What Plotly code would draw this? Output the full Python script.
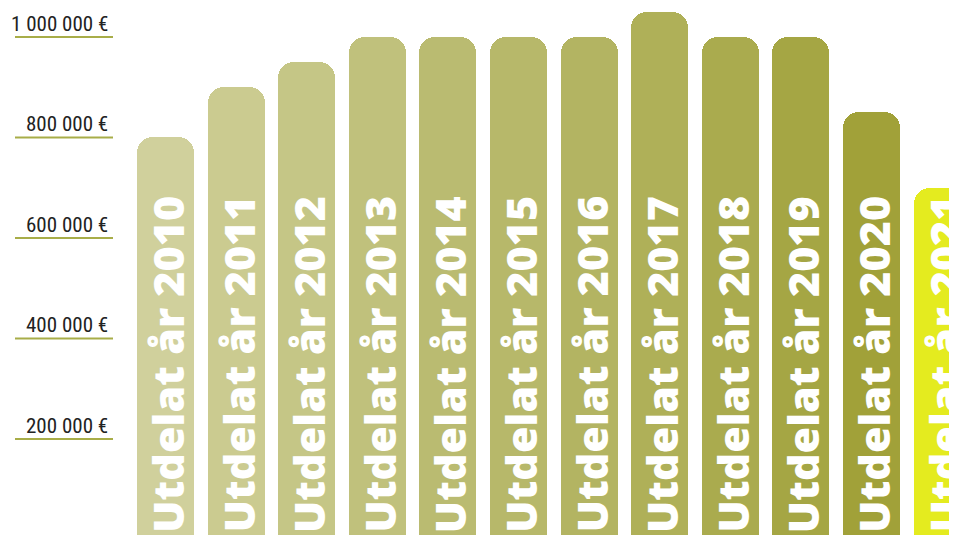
import plotly.graph_objects as go

years = ["2010", "2011", "2012", "2013", "2014", "2015", "2016", "2017", "2018", "2019", "2020", "2021"]
values = [800000, 900000, 950000, 1000000, 1000000, 1000000, 1000000, 1050000, 1000000, 1000000, 850000, 700000]
colors = ["#d0d09c", "#cbcb90", "#c5c686", "#c0c17c", "#babb71", "#b7b86a", "#b3b462",
          "#afb058", "#aaab4e", "#a5a644", "#a1a139", "#e4eb1f"]
bar_labels = ["Utdelat år " + y for y in years]
tick_vals = [200000, 400000, 600000, 800000, 1000000]
tick_text = ["200 000 €", "400 000 €", "600 000 €", "800 000 €", "1 000 000 €"]

# page has 8px body margin; figure sized to fill the rest of the 957x535 window
OFF = 8
W, H = 957 - OFF, 535 - OFF
STEP = 70.6
C0 = 165.5 - OFF
PX_VAL = 1990.0
ZERO_PX = 539.5 - OFF
y_lo = -(H - ZERO_PX) * PX_VAL   # value at the bottom edge of the visible area
y_hi = ZERO_PX * PX_VAL

xs = list(range(len(years)))

fig = go.Figure()
fig.add_trace(go.Bar(
    x=xs,
    y=values,
    marker=dict(color=colors, cornerradius=16, line=dict(width=0)),
    width=57 / STEP,
    cliponaxis=True,
    hoverinfo="skip",
))

for xi, lab in zip(xs, bar_labels):
    fig.add_annotation(
        x=xi, y=y_lo, xref="x", yref="y",
        text=lab, showarrow=False, textangle=-90,
        xanchor="center", yanchor="bottom", yshift=0, xshift=2,
        font=dict(family="Open Sans, sans-serif", size=43, color="white", weight=800),
    )

# axis-like labels with underline on the left
for v, t in zip(tick_vals, tick_text):
    fig.add_annotation(
        x=(110 - OFF) / W, xref="paper", y=v, yref="y",
        text=t, showarrow=False, xanchor="right", yanchor="bottom",
        yshift=-1,
        font=dict(family="Liberation Sans Narrow, Roboto Condensed, sans-serif", size=21, color="#222222"),
    )
    fig.add_shape(
        type="line", xref="paper", yref="y",
        x0=(15 - OFF) / W, x1=(113 - OFF) / W, y0=v, y1=v,
        line=dict(color="#a8ad48", width=2),
    )

fig.update_layout(
    width=W, height=H,
    margin=dict(l=0, r=0, t=0, b=0),
    paper_bgcolor="white", plot_bgcolor="white",
    showlegend=False,
    bargap=0,
    xaxis=dict(range=[-C0 / STEP, (W - C0) / STEP], visible=False, fixedrange=True),
    yaxis=dict(range=[y_lo, y_hi], visible=False, fixedrange=True),
)

fig.write_html("out.html")
